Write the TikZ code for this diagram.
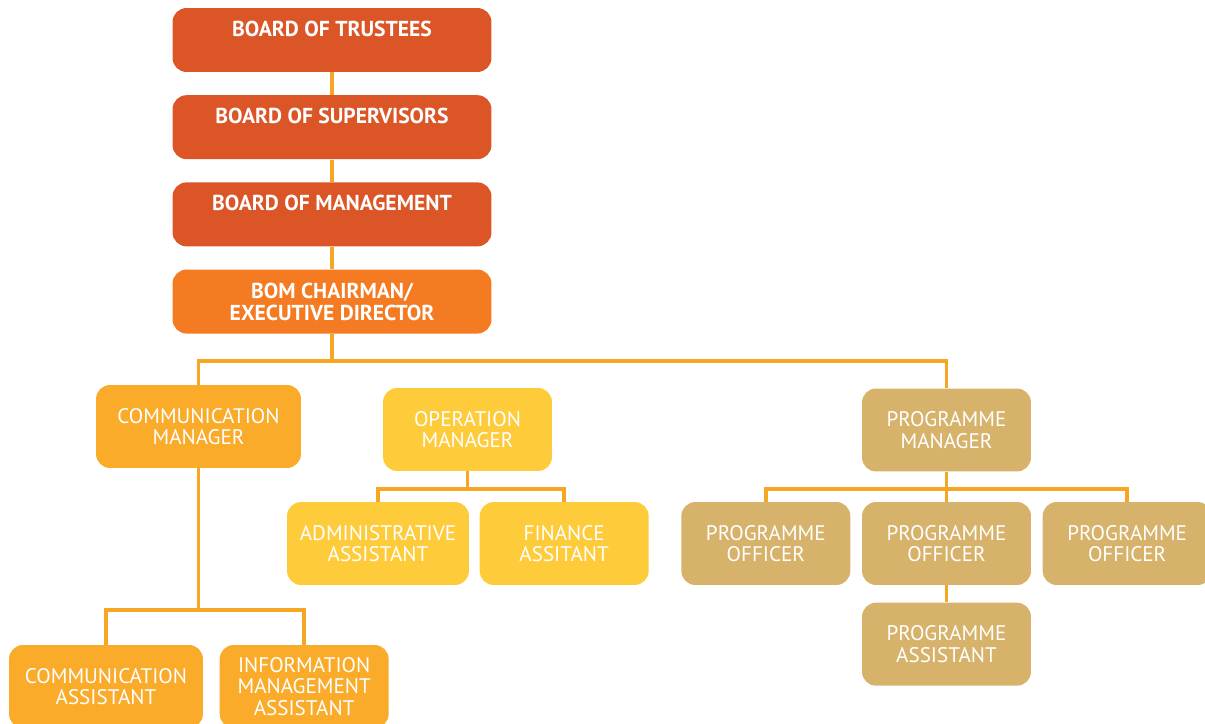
\documentclass[tikz,border=0pt]{standalone}
\usepackage{fontspec}
\setmainfont{PT Sans}
\usetikzlibrary{positioning}
\definecolor{board}{HTML}{DB5526}
\definecolor{chair}{HTML}{F47B22}
\definecolor{comms}{HTML}{F9AB29}
\definecolor{ops}{HTML}{FECB3B}
\definecolor{prog}{HTML}{D6B26A}
\definecolor{wire}{HTML}{F6A623}
\tikzset{
  link/.style={draw=wire,line width=2pt},
  box/.style={rounded corners=8pt,align=center,text=white,inner sep=2pt,
              minimum width=3.38cm,minimum height=1.66cm,
              font=\fontsize{12}{12.2}\selectfont},
  boardbox/.style={box,fill=board,minimum width=6.38cm,minimum height=1.28cm,
                   font=\fontsize{12.3}{12.5}\selectfont\bfseries},
  oneline/.style={text height=7.5pt,text depth=12pt},
  chairbox/.style={boardbox,fill=chair},
  commbox/.style={box,fill=comms},
  opsbox/.style={box,fill=ops},
  progbox/.style={box,fill=prog},
}
\begin{document}
\begin{tikzpicture}[x=0.02cm,y=-0.02cm]
  \useasboundingbox (0,0) rectangle (1205,724);
  \clip (0,0) rectangle (1205,724);
  % boards
  \node[boardbox,oneline] (trustees) at (332,40) {BOARD OF TRUSTEES};
  \node[boardbox,oneline,below=0.45cm of trustees] (supervisors)
    {BOARD OF SUPERVISORS};
  \node[boardbox,oneline,below=0.45cm of supervisors] (management)
    {BOARD OF MANAGEMENT};
  \node[chairbox,below=0.45cm of management] (chairman)
    {BOM CHAIRMAN/\\EXECUTIVE DIRECTOR};
  % managers
  \node[commbox,minimum width=4.1cm] (commmgr) at (198.5,426.5)
    {COMMUNICATION\\MANAGER};
  \node[opsbox] (opsmgr) at (467.5,429.5) {OPERATION\\MANAGER};
  \node[progbox] (progmgr) at (946.5,430) {PROGRAMME\\MANAGER};
  % communication team
  \node[commbox,minimum width=3.88cm] (commasst) at (106,686.5)
    {COMMUNICATION\\ASSISTANT};
  \node[commbox,right=0.32cm of commasst] (infoasst)
    {INFORMATION\\MANAGEMENT\\ASSISTANT};
  % operation team
  \node[opsbox,minimum width=3.64cm] (adminasst) at (378,543.5)
    {ADMINISTRATIVE\\ASSISTANT};
  \node[opsbox,right=0.2cm of adminasst] (finasst) {FINANCE\\ASSITANT};
  % programme team
  \node[progbox] (officerb) at (946.5,543.5) {PROGRAMME\\OFFICER};
  \node[progbox,left=0.22cm of officerb] (officera) {PROGRAMME\\OFFICER};
  \node[progbox,right=0.22cm of officerb] (officerc) {PROGRAMME\\OFFICER};
  \node[progbox,below=0.34cm of officerb] (progasst)
    {PROGRAMME\\ASSISTANT};
  % lines
  \coordinate (topbus) at (332,361);
  \coordinate (commbus) at (198.5,610);
  \coordinate (opsbus) at (467.5,489);
  \coordinate (progbus) at (946.5,489);
  \draw[link] (trustees) -- (supervisors);
  \draw[link] (supervisors) -- (management);
  \draw[link] (management) -- (chairman);
  \draw[link] (chairman.south) -- (topbus);
  \draw[link] (commmgr.north) |- (topbus) -| (progmgr.north);
  \draw[link] (commmgr.south) -- (commbus);
  \draw[link] (commasst.north) |- (commbus) -| (infoasst.north);
  \draw[link] (opsmgr.south) -- (opsbus);
  \draw[link] (adminasst.north) |- (opsbus) -| (finasst.north);
  \draw[link] (progmgr.south) -- (officerb.north);
  \draw[link] (officera.north) |- (progbus) -| (officerc.north);
  \draw[link] (officerb.south) -- (progasst.north);
\end{tikzpicture}
\end{document}
